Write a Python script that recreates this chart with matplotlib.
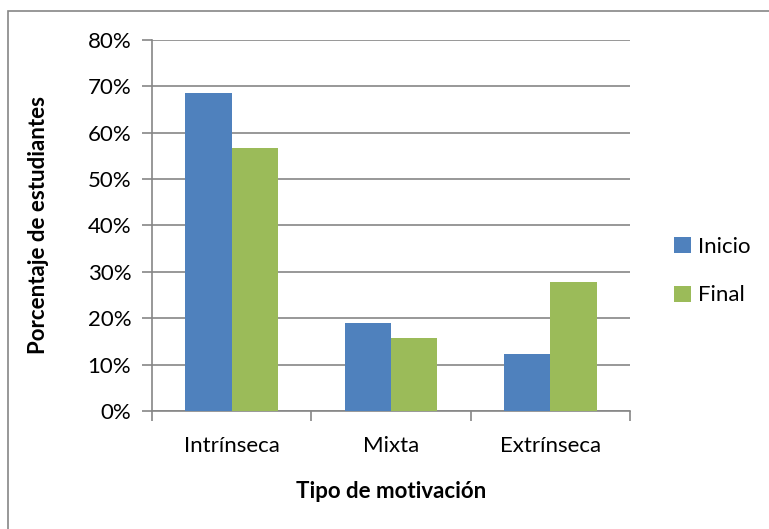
import matplotlib.pyplot as plt
import matplotlib.patches as patches
import numpy as np

# data
categorias = ['Intrínseca', 'Mixta', 'Extrínseca']
inicio = [68.6, 19.0, 12.3]
final = [56.8, 15.7, 27.9]
series = ['Inicio', 'Final']
colores = ['#4F81BD', '#9BBB59']

plt.rcParams['font.family'] = ['Lato', 'DejaVu Sans']
fs = 16

fig = plt.figure(figsize=(7.69, 5.29), dpi=100)
ax = fig.add_axes([152 / 769, 118 / 529, 478 / 769, 371 / 529])

x = np.arange(len(categorias))
w = 0.29
b1 = ax.bar(x - w / 2, inicio, w, color=colores[0], label=series[0], zorder=3)
b2 = ax.bar(x + w / 2, final, w, color=colores[1], label=series[1], zorder=3)

ax.set_xlim(-0.5, len(categorias) - 0.5)
ax.set_ylim(0, 80)
ax.set_yticks(np.arange(0, 81, 10))
ax.set_yticklabels([f'{v}%' for v in range(0, 81, 10)])
ax.set_xticks(x)
ax.set_xticklabels(categorias)
ax.set_xticks(np.arange(-0.5, len(categorias), 1), minor=True)

ax.grid(axis='y', color='#868686', linewidth=1.2, zorder=0)
for s in ['top', 'right']:
    ax.spines[s].set_visible(False)
for s in ['left', 'bottom']:
    ax.spines[s].set_color('#868686')
    ax.spines[s].set_linewidth(1.2)

ax.tick_params(axis='y', length=7, width=1.2, color='#868686', labelsize=fs, pad=8)
ax.tick_params(axis='x', which='major', length=0, labelsize=fs, pad=18)
ax.tick_params(axis='x', which='minor', length=7, width=1.2, color='#868686')

ax.set_ylabel('Porcentaje de estudiantes', fontsize=fs, fontweight='bold', labelpad=28)
ax.set_xlabel('Tipo de motivación', fontsize=fs, fontweight='bold', labelpad=18)

fig.legend(handles=[b1, b2], labels=series, loc='center left',
           bbox_to_anchor=(654 / 769, 1 - 271 / 529), frameon=False,
           fontsize=fs, handlelength=0.75, handleheight=0.75,
           handletextpad=0.35, labelspacing=1.3)

# chart border (only left and top visible in the crop)
fig.patches.append(patches.Rectangle((8 / 769, -0.1), 1.2, 1 - 11 / 529 + 0.1,
                                     transform=fig.transFigure, fill=False,
                                     edgecolor='#868686', linewidth=1.2))

fig.savefig('out.png', dpi=100)
